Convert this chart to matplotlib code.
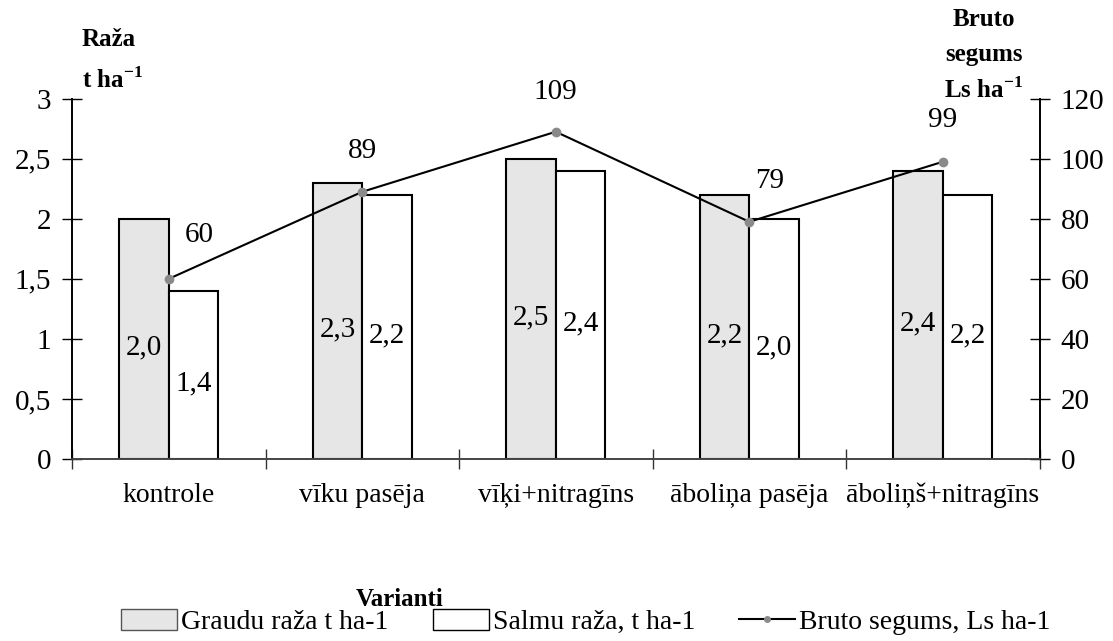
import numpy as np
import matplotlib.pyplot as plt
from matplotlib.lines import Line2D
from matplotlib.patches import Patch

plt.rcParams.update({'font.family': 'Liberation Serif',
                     'mathtext.fontset': 'custom',
                     'mathtext.rm': 'Liberation Serif',
                     'mathtext.bf': 'Liberation Serif:bold',
                     'font.size': 20})

variants = ['kontrole', 'vīku pasēja', 'vīķi+nitragīns', 'āboliņa pasēja', 'āboliņš+nitragīns']
graudi = [2.0, 2.3, 2.5, 2.2, 2.4]
salmi = [1.4, 2.2, 2.4, 2.0, 2.2]
bruto = [60, 89, 109, 79, 99]

left_ticks = [0, 0.5, 1, 1.5, 2, 2.5, 3]
right_ticks = [0, 20, 40, 60, 80, 100, 120]


def comma(v, fmt="{:g}"):
    return fmt.format(v).replace('.', ',')


fig = plt.figure(figsize=(11.13, 6.41), dpi=100)
ax = fig.add_axes([0.0647, 0.284, 0.8693, 0.562])
ax2 = ax.twinx()

x = np.arange(len(variants))
w = 0.255
ax.bar(x - w/2, graudi, w, color='#e6e6e6', edgecolor='black', linewidth=1.5, zorder=2)
ax.bar(x + w/2, salmi, w, color='white', edgecolor='black', linewidth=1.5, zorder=2)

# value labels inside the bars
for xi, v in zip(x, graudi):
    ax.text(xi - w/2, v/2 - 0.07, comma(v, "{:.1f}"), ha='center', va='center', fontsize=21)
for xi, v in zip(x, salmi):
    ax.text(xi + w/2, v/2 - 0.07, comma(v, "{:.1f}"), ha='center', va='center', fontsize=21)

ax.set_xlim(-0.5, 4.5)
ax.set_ylim(0, 3)
ax2.set_ylim(0, 120)

ax2.plot(x, bruto, color='black', lw=1.5, marker='o', ms=6, mfc='#8a8a8a', mec='#8a8a8a', zorder=5)
label_off = [(30, 44), (0, 41), (0, 40), (20, 41), (0, 42)]
for xi, v, off in zip(x, bruto, label_off):
    ax2.annotate(str(v), (xi, v), xytext=off, textcoords='offset pixels',
                 ha='center', va='center', fontsize=21)

ax.set_yticks(left_ticks)
ax.set_yticklabels([comma(t) for t in left_ticks])
ax2.set_yticks(right_ticks)
ax2.set_yticklabels([str(t) for t in right_ticks])

ax.set_xticks(np.arange(-0.5, 4.6, 1.0))
ax.set_xticklabels([])
ax.set_xticks(x, minor=True)
ax.set_xticklabels(variants, minor=True, fontsize=20)
ax.tick_params(axis='x', which='major', direction='inout', length=14, width=1, color='#333333')
ax.tick_params(axis='x', which='minor', length=0, pad=17)
ax.tick_params(axis='y', direction='inout', length=14, width=1, pad=8, labelsize=21)
ax2.tick_params(axis='y', direction='inout', length=14, width=1, pad=8, labelsize=21)

for a in (ax, ax2):
    a.spines['top'].set_visible(False)
    a.spines['left'].set_linewidth(1.2)
    a.spines['right'].set_linewidth(1.2)
    a.spines['bottom'].set_linewidth(1.2)
    a.spines['bottom'].set_color('#444444')

fig.text(82/1113, 1 - 40/641, 'Raža', fontweight='bold', fontsize=18, ha='left', va='center')
fig.text(82/1113, 1 - 80/641, r't ha$^{\mathbf{-1}}$', fontweight='bold', fontsize=18, ha='left', va='center')
fig.text(984/1113, 1 - 20/641, 'Bruto', fontweight='bold', fontsize=18, ha='center', va='center')
fig.text(984/1113, 1 - 55/641, 'segums', fontweight='bold', fontsize=18, ha='center', va='center')
fig.text(984/1113, 1 - 90/641, r'Ls ha$^{\mathbf{-1}}$', fontweight='bold', fontsize=18, ha='center', va='center')

fig.text(400/1113, 1 - 600/641, 'Varianti', fontweight='bold', fontsize=18, ha='center', va='center')

handles = [Patch(facecolor='#e6e6e6', edgecolor='#555555', label='Graudu raža t ha-1'),
           Patch(facecolor='white', edgecolor='black', label='Salmu raža, t ha-1'),
           Line2D([], [], color='black', lw=1.5, marker='o', ms=4, mfc='#8a8a8a', mec='#8a8a8a',
                  label='Bruto segums, Ls ha-1')]
fig.legend(handles=handles, loc='center', bbox_to_anchor=(586/1113, 1 - 622/641), ncol=3,
           frameon=False, fontsize=20, handlelength=2.0, handleheight=0.8,
           columnspacing=1.6, handletextpad=0.15, borderaxespad=0)

fig.savefig('out.png', dpi=100)
